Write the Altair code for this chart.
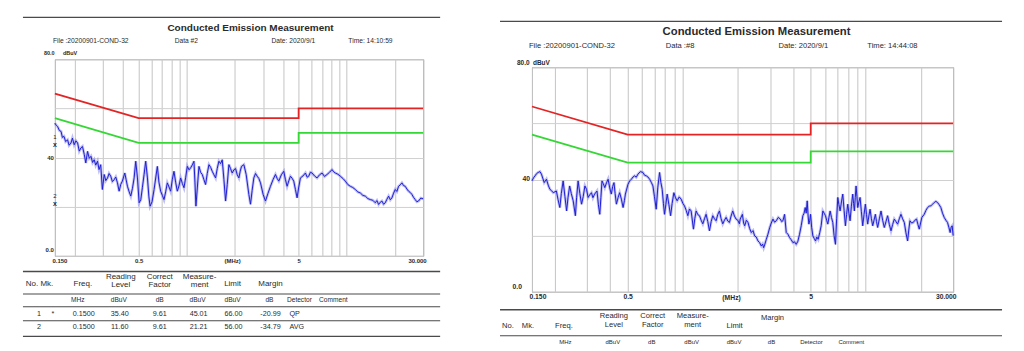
import altair as alt
import pandas as pd

# ---------------- values ----------------
limit_freq = [0.15, 0.5, 5, 5, 30]
qp_limit = [66, 56, 56, 60, 60]
avg_limit = [56, 46, 46, 50, 50]

grid_freq = [0.15, 0.2, 0.3, 0.4, 0.5, 0.6, 0.7, 0.8, 0.9, 1, 2, 3, 4, 5, 6, 7, 8, 9, 10, 20, 30]
grid_level = [0, 10, 20, 30, 40, 50, 60, 70, 80]

left_freq = [0.150, 0.153, 0.156, 0.160, 0.164, 0.167, 0.171, 0.175, 0.180, 0.184, 0.189, 0.193, 0.198, 0.203,
             0.208, 0.213, 0.218, 0.223, 0.229, 0.234, 0.240, 0.246, 0.252, 0.258, 0.264, 0.270, 0.277, 0.283,
             0.290, 0.297, 0.305, 0.312, 0.320, 0.327, 0.335, 0.343, 0.352, 0.360, 0.369, 0.378, 0.387, 0.396,
             0.410, 0.418, 0.426, 0.437, 0.447, 0.458, 0.469, 0.480, 0.492, 0.504, 0.516, 0.528, 0.541, 0.554,
             0.568, 0.580, 0.590, 0.607, 0.625, 0.655, 0.670, 0.687, 0.705, 0.721, 0.738, 0.756, 0.775, 0.793,
             0.812, 0.832, 0.852, 0.873, 0.894, 0.916, 0.938, 0.961, 0.985, 1.008, 1.033, 1.057, 1.083, 1.109,
             1.125, 1.141, 1.165, 1.192, 1.220, 1.250, 1.280, 1.311, 1.343, 1.376, 1.410, 1.443, 1.478, 1.514,
             1.550, 1.588, 1.627, 1.666, 1.707, 1.748, 1.790, 1.833, 1.877, 1.923, 1.970, 2.018, 2.067, 2.117,
             2.158, 2.199, 2.274, 2.351, 2.443, 2.502, 2.560, 2.625, 2.690, 2.754, 2.820, 2.889, 3.000, 3.104,
             3.220, 3.335, 3.460, 3.583, 3.670, 3.759, 3.900, 4.038, 4.136, 4.236, 4.340, 4.444, 4.550, 4.662,
             4.775, 4.890, 5.010, 5.130, 5.320, 5.512, 5.650, 5.782, 5.920, 6.066, 6.290, 6.518, 6.760, 7.004,
             7.260, 7.524, 7.800, 8.084, 8.280, 8.480, 8.790, 9.111, 9.450, 9.789, 10.15, 10.52, 10.90, 11.30,
             11.72, 12.14, 12.60, 13.05, 13.53, 14.02, 14.54, 15.06, 15.42, 15.80, 16.18, 16.57, 16.98, 17.39,
             17.80, 18.24, 18.70, 19.14, 19.60, 20.07, 20.55, 21.06, 21.57, 22.09, 22.62, 23.17, 23.73, 24.31,
             24.90, 25.50, 26.12, 26.75, 27.40, 28.06, 29.00, 30.00]
left_level = [54.0, 53.1, 52.6, 51.0, 50.6, 48.2, 48.6, 46.5, 47.2, 45.0, 45.9, 47.9, 45.2, 46.8,
              45.9, 42.6, 43.9, 44.5, 41.2, 37.8, 42.5, 39.7, 40.5, 38.0, 39.1, 36.9, 38.5, 35.1,
              37.1, 27.0, 33.1, 30.6, 31.7, 33.5, 32.4, 30.2, 31.0, 32.1, 29.7, 26.3, 29.1, 30.4,
              33.7, 31.0, 28.3, 26.0, 24.3, 27.5, 31.7, 38.5, 31.7, 21.6, 22.8, 27.7, 33.0, 38.5,
              31.7, 24.0, 20.2, 22.0, 27.0, 36.4, 30.0, 26.3, 24.5, 22.9, 26.0, 29.7, 28.0, 26.3,
              31.0, 34.4, 30.0, 26.3, 28.5, 31.7, 29.5, 27.7, 32.0, 36.4, 35.0, 35.8, 37.0, 38.5,
              30.0, 20.2, 28.0, 36.4, 34.0, 33.1, 31.0, 29.0, 33.5, 37.1, 36.0, 34.4, 33.0, 31.7,
              35.5, 38.5, 37.5, 39.1, 31.0, 22.3, 29.0, 37.1, 35.5, 33.7, 35.0, 35.5, 33.0, 31.7,
              34.5, 36.4, 37.1, 33.1, 25.0, 21.0, 26.5, 31.7, 33.5, 32.4, 31.5, 29.7, 25.0, 22.3,
              25.5, 28.3, 31.0, 33.1, 31.5, 30.4, 33.0, 34.4, 31.0, 28.3, 30.5, 32.4, 31.6, 30.4,
              27.0, 23.6, 28.0, 31.7, 32.5, 33.7, 32.0, 32.4, 34.0, 33.7, 32.5, 31.7, 33.0, 33.7,
              32.3, 33.1, 34.0, 35.1, 34.2, 33.7, 33.2, 32.4, 31.5, 30.4, 29.0, 28.3, 27.8, 27.0,
              26.0, 25.6, 24.6, 24.3, 23.3, 22.9, 22.6, 21.6, 22.5, 20.9, 21.8, 22.3, 21.0, 21.6,
              23.0, 24.3, 22.8, 23.6, 25.5, 27.0, 26.2, 28.3, 28.9, 29.7, 28.6, 28.3, 27.2, 26.3,
              25.8, 25.0, 23.8, 22.9, 22.0, 22.3, 23.5, 23.2]

right_freq = [0.150, 0.153, 0.156, 0.159, 0.162, 0.166, 0.169, 0.175, 0.180, 0.184, 0.188, 0.192, 0.196, 0.204,
              0.208, 0.213, 0.217, 0.222, 0.227, 0.232, 0.236, 0.241, 0.246, 0.252, 0.259, 0.263, 0.268, 0.274,
              0.280, 0.286, 0.292, 0.298, 0.304, 0.310, 0.317, 0.323, 0.330, 0.340, 0.346, 0.352, 0.357, 0.362,
              0.368, 0.375, 0.383, 0.391, 0.399, 0.407, 0.414, 0.421, 0.427, 0.434, 0.443, 0.452, 0.462, 0.472,
              0.480, 0.486, 0.502, 0.513, 0.524, 0.535, 0.546, 0.557, 0.569, 0.587, 0.606, 0.619, 0.632, 0.645,
              0.659, 0.673, 0.687, 0.700, 0.716, 0.730, 0.747, 0.759, 0.772, 0.784, 0.795, 0.808, 0.822, 0.840,
              0.858, 0.875, 0.894, 0.913, 0.932, 0.956, 0.980, 1.001, 1.022, 1.044, 1.066, 1.088, 1.111, 1.144,
              1.163, 1.183, 1.208, 1.234, 1.260, 1.287, 1.314, 1.341, 1.370, 1.399, 1.429, 1.459, 1.490, 1.521,
              1.553, 1.586, 1.620, 1.654, 1.690, 1.725, 1.762, 1.799, 1.837, 1.875, 1.915, 1.955, 1.997, 2.039,
              2.060, 2.117, 2.150, 2.180, 2.226, 2.272, 2.320, 2.369, 2.420, 2.470, 2.520, 2.576, 2.630, 2.687,
              2.730, 2.767, 2.810, 2.861, 2.920, 2.983, 3.045, 3.110, 3.175, 3.243, 3.325, 3.410, 3.470, 3.525,
              3.600, 3.676, 3.755, 3.833, 3.915, 3.998, 4.080, 4.167, 4.255, 4.345, 4.437, 4.531, 4.600, 4.666,
              4.725, 4.785, 4.840, 4.887, 4.940, 4.989, 5.060, 5.138, 5.225, 5.312, 5.400, 5.493, 5.600, 5.703,
              5.824, 5.920, 6.021, 6.110, 6.200, 6.290, 6.384, 6.490, 6.601, 6.710, 6.826, 6.930, 7.029, 7.130,
              7.238, 7.360, 7.484, 7.610, 7.739, 7.850, 7.968, 8.085, 8.205, 8.340, 8.484, 8.573, 8.663, 8.755,
              8.847, 8.940, 9.034, 9.170, 9.303, 9.460, 9.619, 9.780, 9.946, 10.09, 10.24, 10.39, 10.55, 10.73,
              10.91, 11.09, 11.28, 11.44, 11.61, 11.86, 12.11, 12.36, 12.62, 12.89, 13.16, 13.44, 13.73, 14.02,
              14.31, 14.61, 14.92, 15.24, 15.56, 15.89, 16.23, 16.57, 16.92, 17.17, 17.42, 17.79, 18.17, 18.55,
              18.94, 19.26, 19.59, 19.92, 20.25, 20.86, 21.30, 21.75, 22.20, 22.67, 23.15, 23.64, 24.14, 24.65,
              25.17, 25.71, 26.25, 26.81, 27.37, 27.95, 28.42, 28.90, 29.27, 29.64, 30.00]
right_level = [39.5, 40.6, 41.3, 42.1, 42.5, 42.8, 41.9, 38.9, 40.1, 38.0, 36.5, 36.0, 35.3, 35.9,
               33.0, 30.0, 35.0, 39.5, 34.0, 28.8, 33.5, 37.7, 35.0, 32.4, 27.1, 33.5, 39.5, 35.0,
               31.2, 34.0, 37.7, 36.5, 33.6, 34.5, 35.3, 33.5, 34.8, 35.9, 31.0, 27.6, 33.5, 39.5,
               38.5, 37.1, 38.8, 40.1, 37.0, 34.8, 37.5, 38.9, 35.0, 31.2, 33.5, 35.3, 33.0, 30.0,
               32.5, 34.8, 38.3, 39.5, 40.1, 40.9, 41.3, 40.8, 41.9, 42.8, 42.5, 41.5, 41.3, 40.9,
               40.1, 39.0, 37.7, 34.0, 29.4, 37.0, 42.5, 39.0, 36.5, 31.5, 27.6, 31.0, 34.8, 31.0,
               27.1, 31.5, 35.3, 33.5, 32.4, 33.8, 33.0, 31.5, 30.6, 29.0, 27.1, 29.5, 28.8, 22.3,
               26.0, 28.8, 27.5, 27.1, 25.5, 24.2, 26.0, 27.6, 25.0, 21.7, 25.0, 27.1, 26.0, 25.3,
               27.5, 28.8, 26.0, 24.2, 25.5, 26.5, 25.2, 24.7, 27.0, 28.8, 27.0, 25.9, 25.5, 24.2,
               25.9, 27.6, 24.5, 23.5, 25.5, 24.7, 22.5, 21.1, 21.8, 19.9, 19.5, 18.1, 17.5, 16.3,
               17.0, 15.7, 17.0, 18.7, 20.5, 22.8, 24.5, 25.9, 24.8, 25.3, 26.5, 25.9, 25.0, 25.3,
               27.6, 21.1, 20.5, 19.3, 18.5, 17.5, 17.8, 16.9, 18.0, 20.5, 23.5, 27.1, 28.0, 30.0,
               28.0, 32.4, 27.0, 24.1, 25.5, 27.6, 23.0, 19.9, 19.0, 18.1, 19.5, 18.7, 21.0, 23.5,
               28.8, 28.0, 27.1, 25.5, 24.1, 26.5, 28.8, 26.5, 24.7, 20.0, 16.9, 26.0, 33.6, 31.0,
               28.8, 32.0, 34.8, 29.0, 23.5, 27.5, 31.2, 28.0, 25.3, 30.5, 34.8, 31.5, 28.8, 33.5,
               37.7, 34.0, 30.0, 32.0, 33.6, 28.5, 23.5, 27.5, 31.2, 27.5, 24.1, 27.0, 29.4, 26.0,
               23.5, 25.5, 27.6, 25.0, 22.9, 26.0, 28.8, 25.5, 22.9, 25.0, 27.1, 24.0, 21.7, 24.0,
               25.9, 25.0, 24.1, 26.0, 27.6, 26.0, 24.7, 21.0, 18.1, 22.0, 25.3, 24.5, 24.7, 25.5,
               25.9, 24.0, 22.3, 24.5, 26.5, 27.6, 29.0, 30.0, 30.5, 30.6, 31.2, 31.8, 32.2, 31.8,
               31.0, 30.0, 28.0, 26.5, 25.5, 24.7, 23.0, 21.1, 23.0, 23.5, 20.0]

marker_no = ["1", "2"]
marker_freq = [0.15, 0.15]
marker_level = [45.01, 21.21]

title_text = "Conducted Emission Measurement"
left_info = ["File :20200901-COND-32", "Data #2", "Date: 2020/9/1", "Time: 14:10:59"]
right_info = ["File :20200901-COND-32", "Data :#8", "Date: 2020/9/1", "Time: 14:44:08"]
head_two_top = ["Reading", "Correct", "Measure-"]
head_two_bottom = ["Level", "Factor", "ment"]
head_one = ["No.", "Mk.", "Freq.", "Limit", "Margin"]
unit_row = ["MHz", "dBuV", "dB", "dBuV", "dBuV", "dB", "Detector", "Comment"]
row1 = ["1", "*", "0.1500", "35.40", "9.61", "45.01", "66.00", "-20.99"]
row2 = ["2", "", "0.1500", "11.60", "9.61", "21.21", "56.00", "-34.79"]
detector_col = ["QP", "AVG"]
ylab_text = ["0.0", "40"]
ylab_value = [0, 40]

FONT = "Liberation Sans"
TXT = "#2a2a2a"

# ---------------- layout (pixels on the 1024x351 page) ----------------
LEFT = dict(ox=54, oy=58, w=369, h=197, tick=6, title_size=10, title_x=250, title_y=27,
            info_x=[52, 174, 271, 348], info_y=40, info_size=6.7,
            unit_lbl=[(43, 52), (62, 52)], unit_lbl_size=5.5,
            mhz=(232, 260), top_rule=(22, 440, 16),
            ylab=[(-1, -3), (-1, 0)],
            t_lines=[270.7, 293.3, 306, 320, 335.7], t_x=(22, 440), t_size=8, u_size=6.6,
            h2_x=[120, 159, 199], h2_y=(276, 284), h1_x=[31, 46, 82, 232, 270], h1_y=[283.5] * 5,
            u_x=[77, 118, 159, 197, 232, 269, 299, 333], u_y=299.5,
            r_x=[38, 52, 83, 119, 159, 198, 233, 270], r_y=[313, 326], det_x=289, r_size=7.2,
            anchor=(0, 0))
RIGHT = dict(ox=532, oy=66, w=422, h=225, tick=6.8, title_size=11.3, title_x=757, title_y=31,
             info_x=[529, 666, 779, 868], info_y=45, info_size=7.6,
             unit_lbl=[(517, 62), (533, 62)], unit_lbl_size=6.5,
             mhz=(732, 297), top_rule=(500, 1003, 20),
             ylab=[(-10, -2), (-2, 0)],
             t_lines=[309, 335], t_x=(500, 1003), t_size=7.6, u_size=6.0,
             h2_x=[614, 653, 693], h2_y=(315.7, 324.5), h1_x=[508, 528, 564, 735, 773],
             h1_y=[325, 325, 325, 325, 317.3],
             u_x=[565.5, 613, 652, 692, 734.5, 772, 812, 852], u_y=341.7,
             r_x=None, r_y=None, det_x=None, r_size=7.2,
             anchor=(1023, 350))


def txt(texts, xs, ys, P, size, weight="normal", align="center", baseline="middle"):
    df = pd.DataFrame({"t": texts, "px": [x - P["ox"] for x in xs], "py": [y - P["oy"] for y in ys]})
    return alt.Chart(df).mark_text(fontSize=size, fontWeight=weight, align=align, baseline=baseline,
                                   color=TXT, font=FONT).encode(
        x=alt.X("px:Q", scale=None, axis=None),
        y=alt.Y("py:Q", scale=None, axis=None),
        text="t:N")


def hrules(x1, x2, ys, P, width):
    df = pd.DataFrame({"a": [x1 - P["ox"]] * len(ys), "b": [x2 - P["ox"]] * len(ys),
                       "py": [y - P["oy"] for y in ys]})
    return alt.Chart(df).mark_rule(color="#4a4a4a", strokeWidth=width).encode(
        x=alt.X("a:Q", scale=None, axis=None), x2="b:Q",
        y=alt.Y("py:Q", scale=None, axis=None))


def panel(P, freq, level, info, with_table_rows):
    x_enc = alt.X("f:Q",
                  scale=alt.Scale(type="log", domain=[0.15, 30], nice=False),
                  axis=alt.Axis(values=grid_freq, title=None, grid=True, ticks=False, domain=False,
                                labelExpr="datum.value == 0.15 ? '0.150' : datum.value == 0.5 ? '0.5' : "
                                          "datum.value == 5 ? '5' : datum.value == 30 ? '30.000' : ''",
                                labelFlush=True, labelFlushOffset=3, labelOverlap=False, labelFont=FONT,
                                labelFontSize=P["tick"], labelFontWeight="bold", labelColor=TXT,
                                labelPadding=2, gridColor="#c4c4c4", gridWidth=1))
    y_enc = alt.Y("v:Q",
                  scale=alt.Scale(domain=[0, 80], nice=False, zero=False),
                  axis=alt.Axis(values=grid_level, title=None, grid=True, ticks=False, domain=False,
                                labels=False, gridColor="#d0d0d0", gridWidth=1))

    lim_df = pd.DataFrame({"f": limit_freq + limit_freq, "v": qp_limit + avg_limit,
                           "kind": ["QP"] * len(limit_freq) + ["AVG"] * len(limit_freq),
                           "i": list(range(len(limit_freq))) * 2})
    trace_df = pd.DataFrame({"f": freq, "v": level, "i": list(range(len(freq)))})

    limits = alt.Chart(lim_df).mark_line(strokeWidth=1.8).encode(
        x=x_enc, y=y_enc, order="i:Q",
        color=alt.Color("kind:N", scale=alt.Scale(domain=["QP", "AVG"], range=["#e42424", "#35d735"]),
                        legend=None))
    halo = alt.Chart(trace_df).mark_line(color="#8c8ceb", strokeWidth=2.8, opacity=0.55).encode(
        x="f:Q", y="v:Q", order="i:Q")
    trace = alt.Chart(trace_df).mark_line(color="#1f1fd2", strokeWidth=1.0).encode(
        x="f:Q", y="v:Q", order="i:Q")
    layers = [limits, halo, trace]

    # y axis labels 0.0 and 40
    for (t, v, (px, dy)) in zip(ylab_text, ylab_value, P["ylab"]):
        d = pd.DataFrame({"v": [v], "t": [t]})
        layers.append(alt.Chart(d).mark_text(align="right", baseline="bottom" if v == 0 else "middle",
                                             dy=dy, fontSize=P["tick"], fontWeight="bold",
                                             font=FONT, color=TXT).encode(
            x=alt.value(px), y="v:Q", text="t:N"))

    if with_table_rows:
        mk = pd.DataFrame({"f": marker_freq, "v": marker_level, "n": marker_no})
        layers.append(alt.Chart(mk).mark_text(text="x", fontSize=7, fontWeight="bold", font=FONT,
                                              color=TXT).encode(x="f:Q", y="v:Q"))
        layers.append(alt.Chart(mk).mark_text(fontSize=6, font=FONT, color=TXT, dy=-8).encode(
            x="f:Q", y="v:Q", text="n:N"))

    # frequency unit under the axis
    layers.append(txt(["(MHz)"], [P["mhz"][0]], [P["mhz"][1]], P, P["tick"], weight="bold"))
    # header block
    layers.append(hrules(P["top_rule"][0], P["top_rule"][1], [P["top_rule"][2]], P, 1.2))
    layers.append(txt([title_text], [P["title_x"]], [P["title_y"]], P, P["title_size"], weight="bold"))
    layers.append(txt(info, P["info_x"], [P["info_y"]] * len(info), P, P["info_size"], align="left"))
    layers.append(txt(["80.0", "dBuV"], [p[0] for p in P["unit_lbl"]], [p[1] for p in P["unit_lbl"]], P,
                      P["unit_lbl_size"], weight="bold", align="left"))
    # table
    layers.append(hrules(P["t_x"][0], P["t_x"][1], P["t_lines"][:1], P, 1.6))
    layers.append(hrules(P["t_x"][0], P["t_x"][1], P["t_lines"][1:], P, 1.1))
    layers.append(txt(head_two_top, P["h2_x"], [P["h2_y"][0]] * 3, P, P["t_size"]))
    layers.append(txt(head_two_bottom, P["h2_x"], [P["h2_y"][1]] * 3, P, P["t_size"]))
    layers.append(txt(head_one, P["h1_x"], P["h1_y"], P, P["t_size"]))
    layers.append(txt(unit_row, P["u_x"], [P["u_y"]] * len(unit_row), P, P["u_size"]))
    if with_table_rows:
        for row, yy in zip([row1, row2], P["r_y"]):
            layers.append(txt(row, P["r_x"], [yy] * len(row), P, P["r_size"]))
        layers.append(txt(detector_col, [P["det_x"]] * 2, P["r_y"], P, P["r_size"], align="left"))

    # invisible anchor fixing the page corner
    ax, ay = P["anchor"]
    layers.append(alt.Chart(pd.DataFrame({"a": [0]})).mark_rect(opacity=0).encode(
        x=alt.value(ax - P["ox"]), x2=alt.value(ax - P["ox"] + 1),
        y=alt.value(ay - P["oy"]), y2=alt.value(ay - P["oy"] + 1)))

    return alt.layer(*layers).properties(width=P["w"], height=P["h"])


left_chart = panel(LEFT, left_freq, left_level, left_info, True)
right_chart = panel(RIGHT, right_freq, right_level, right_info, False)

spacer = alt.Chart(pd.DataFrame({"a": [0]})).mark_text(text="").encode(
    x=alt.value(0), y=alt.value(0)).properties(width=RIGHT["w"], height=RIGHT["oy"] - LEFT["oy"],
                                               view=alt.ViewBackground(stroke="transparent"))

right_col = alt.vconcat(spacer, right_chart, spacing=0, bounds="flush")
chart = alt.hconcat(left_chart, right_col,
                    spacing=RIGHT["ox"] - (LEFT["ox"] + LEFT["w"]), bounds="flush").properties(
    padding=0, background="white"
).configure_view(stroke="#8c8c8c", strokeWidth=1)

chart.save("out.html", embed_options={"renderer": "svg", "actions": False})
